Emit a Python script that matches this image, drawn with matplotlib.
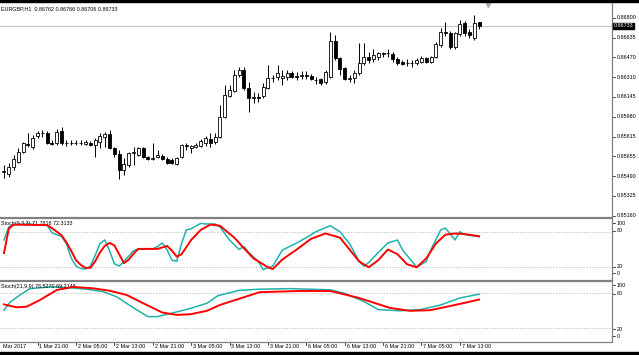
import numpy as np
import matplotlib
matplotlib.use('Agg')
import matplotlib.pyplot as plt
from matplotlib.transforms import blended_transform_factory

plt.rcParams['font.family'] = ['Liberation Sans', 'DejaVu Sans']

## data
# hourly candles EURGBP, open / high / low / close
opens = [0.85523, 0.85506, 0.85564, 0.85605, 0.85688, 0.85754, 0.85729, 0.85820, 0.85845, 0.85845,
         0.85762, 0.85762, 0.85862, 0.85762, 0.85766, 0.85762, 0.85766, 0.85754, 0.85762, 0.85746,
         0.85771, 0.85812, 0.85837, 0.85721, 0.85671, 0.85539, 0.85581, 0.85680, 0.85663, 0.85721,
         0.85647, 0.85630, 0.85647, 0.85655, 0.85630, 0.85622, 0.85589, 0.85647, 0.85742, 0.85721,
         0.85729, 0.85737, 0.85762, 0.85795, 0.85771, 0.85812, 0.85978, 0.86152, 0.86193, 0.86326,
         0.86367, 0.86218, 0.86135, 0.86143, 0.86152, 0.86218, 0.86301, 0.86309, 0.86301, 0.86309,
         0.86342, 0.86317, 0.86317, 0.86326, 0.86317, 0.86288, 0.86292, 0.86268, 0.86309, 0.86607,
         0.86466, 0.86384, 0.86292, 0.86301, 0.86342, 0.86425, 0.86475, 0.86458, 0.86475, 0.86500,
         0.86504, 0.86500, 0.86458, 0.86433, 0.86425, 0.86421, 0.86425, 0.86433, 0.86466, 0.86433,
         0.86475, 0.86574, 0.86682, 0.86673, 0.86557, 0.86665, 0.86756, 0.86682, 0.86632, 0.86762]
highs = [0.85581, 0.85597, 0.85663, 0.85721, 0.85771, 0.85845, 0.85829, 0.85862, 0.85870, 0.85862,
         0.85787, 0.85878, 0.85895, 0.85787, 0.85787, 0.85787, 0.85787, 0.85787, 0.85779, 0.85804,
         0.85845, 0.85853, 0.85870, 0.85729, 0.85704, 0.85638, 0.85688, 0.85729, 0.85729, 0.85729,
         0.85655, 0.85762, 0.85704, 0.85671, 0.85647, 0.85638, 0.85647, 0.85754, 0.85762, 0.85746,
         0.85762, 0.85795, 0.85820, 0.85845, 0.85845, 0.86077, 0.86243, 0.86243, 0.86367, 0.86392,
         0.86392, 0.86268, 0.86185, 0.86176, 0.86259, 0.86408, 0.86326, 0.86408, 0.86367, 0.86367,
         0.86359, 0.86350, 0.86359, 0.86359, 0.86334, 0.86309, 0.86301, 0.86367, 0.86682, 0.86657,
         0.86475, 0.86392, 0.86326, 0.86367, 0.86591, 0.86591, 0.86516, 0.86541, 0.86516, 0.86516,
         0.86541, 0.86516, 0.86475, 0.86450, 0.86458, 0.86450, 0.86466, 0.86483, 0.86475, 0.86483,
         0.86599, 0.86715, 0.86764, 0.86690, 0.86682, 0.86781, 0.86773, 0.86706, 0.86822, 0.86766]
lows = [0.85473, 0.85481, 0.85539, 0.85597, 0.85680, 0.85729, 0.85713, 0.85804, 0.85812, 0.85754,
        0.85746, 0.85746, 0.85746, 0.85737, 0.85746, 0.85746, 0.85746, 0.85746, 0.85737, 0.85647,
        0.85721, 0.85729, 0.85713, 0.85647, 0.85465, 0.85498, 0.85564, 0.85581, 0.85655, 0.85638,
        0.85622, 0.85622, 0.85638, 0.85622, 0.85589, 0.85589, 0.85581, 0.85638, 0.85704, 0.85680,
        0.85721, 0.85729, 0.85737, 0.85729, 0.85754, 0.85804, 0.85970, 0.86143, 0.86185, 0.86309,
        0.86201, 0.86019, 0.86094, 0.86102, 0.86135, 0.86210, 0.86268, 0.86284, 0.86243, 0.86284,
        0.86301, 0.86284, 0.86292, 0.86292, 0.86284, 0.86251, 0.86243, 0.86251, 0.86301, 0.86450,
        0.86326, 0.86284, 0.86268, 0.86259, 0.86326, 0.86408, 0.86425, 0.86433, 0.86450, 0.86475,
        0.86475, 0.86433, 0.86408, 0.86408, 0.86400, 0.86392, 0.86408, 0.86425, 0.86425, 0.86425,
        0.86466, 0.86557, 0.86649, 0.86541, 0.86541, 0.86649, 0.86649, 0.86632, 0.86615, 0.86706]
closes = [0.85531, 0.85564, 0.85630, 0.85688, 0.85762, 0.85746, 0.85804, 0.85845, 0.85849, 0.85762,
          0.85758, 0.85853, 0.85762, 0.85766, 0.85762, 0.85766, 0.85762, 0.85771, 0.85746, 0.85787,
          0.85820, 0.85837, 0.85721, 0.85671, 0.85539, 0.85589, 0.85680, 0.85684, 0.85721, 0.85647,
          0.85630, 0.85638, 0.85663, 0.85630, 0.85597, 0.85597, 0.85638, 0.85746, 0.85737, 0.85737,
          0.85746, 0.85779, 0.85804, 0.85762, 0.85812, 0.85978, 0.86160, 0.86201, 0.86326, 0.86367,
          0.86218, 0.86135, 0.86143, 0.86135, 0.86226, 0.86301, 0.86305, 0.86342, 0.86317, 0.86342,
          0.86309, 0.86313, 0.86326, 0.86321, 0.86292, 0.86284, 0.86259, 0.86350, 0.86607, 0.86466,
          0.86375, 0.86292, 0.86301, 0.86342, 0.86425, 0.86475, 0.86450, 0.86491, 0.86508, 0.86504,
          0.86508, 0.86458, 0.86425, 0.86417, 0.86421, 0.86425, 0.86450, 0.86466, 0.86433, 0.86475,
          0.86582, 0.86682, 0.86677, 0.86557, 0.86673, 0.86748, 0.86673, 0.86657, 0.86756, 0.86733]

# stochastic (9,3,3) main / signal, read at bar positions
st1_main_idx = [0, 1, 2, 5, 9, 10, 12, 13, 14, 15, 16, 17, 18, 19, 20, 21, 22, 23, 24, 25, 27, 28, 31,
                32, 33, 34, 35, 36, 37, 38, 39, 41, 42, 44, 45, 47, 49, 50, 51, 53, 54, 56, 58, 61, 63,
                65, 68, 70, 72, 74, 75, 76, 78, 80, 82, 83, 85, 86, 88, 89, 91, 92, 94, 95, 96, 99]
st1_main = [66, 88, 92, 93, 91, 78, 72, 60, 36, 22, 18, 17, 22, 40, 60, 66, 48, 26, 22, 30, 48, 51, 51,
            55, 61, 49, 32, 30, 60, 83, 85, 94, 93, 93, 88, 66, 50, 55, 45, 30, 16, 22, 49, 61, 70,
            80, 90, 80, 60, 30, 22, 28, 45, 61, 66, 50, 30, 20, 30, 50, 83, 86, 66, 80, 75, 71.78]
st1_sig_idx = [0, 1, 2, 9, 10, 12, 13, 14, 15, 16, 17, 18, 19, 20, 21, 22, 23, 24, 25, 26, 27, 28, 32,
               34, 35, 36, 37, 39, 41, 43, 45, 48, 50, 52, 55, 56, 58, 61, 64, 67, 70, 72, 74, 76, 78,
               80, 82, 84, 86, 88, 90, 92, 94, 96, 99]
st1_sig = [44, 85, 92, 91, 86, 74, 62, 48, 32, 24, 19, 19, 30, 45, 56, 61, 57, 42, 27, 33, 43, 51, 51,
           56, 48, 38, 42, 66, 83, 92, 90, 70, 52, 35, 20, 17, 33, 50, 68, 77, 70, 50, 30, 20, 32,
           50, 42, 25, 20, 35, 60, 75, 77, 76, 72.31]

# stochastic (21,9,9)
st2_main_idx = [0, 1.3, 3.3, 5.4, 9.6, 13, 17.3, 20.6, 23.5, 27, 30, 32, 35, 38.8, 42.3, 44.6, 49, 53,
                59.6, 68, 71, 75, 78, 82.5, 86.7, 91, 95, 99]
st2_main = [51, 65, 77, 88, 91, 90, 87, 83, 74, 55, 40, 40, 46, 54, 63, 76, 85, 87,
            88, 86, 80, 66, 52, 50, 52, 60, 72, 78.53]
st2_sig_idx = [0, 2.6, 4.7, 7.5, 11, 14.4, 18.5, 22, 25.6, 29, 33, 36, 38.8, 42.3, 45, 53.3, 61.7, 68,
               74, 80.4, 84.6, 88.8, 94, 99]
st2_sig = [61, 56, 57, 68.5, 85.7, 91, 88.6, 84.5, 77, 63, 47, 43, 44, 50, 60, 82, 84, 84,
           72, 55, 50, 51, 60, 69.21]

price_labels = ['0.86800', '0.86635', '0.86470', '0.86310', '0.86145', '0.85980',
                '0.85815', '0.85655', '0.85490', '0.85325', '0.85160']
time_idx = [7, 15, 23, 31, 39, 47, 55, 63, 71, 79, 87, 95]
time_labels = ['1 Mar 21:00', '2 Mar 05:00', '2 Mar 13:00', '2 Mar 21:00', '3 Mar 05:00',
               '3 Mar 13:00', '3 Mar 21:00', '6 Mar 05:00', '6 Mar 13:00', '6 Mar 21:00',
               '7 Mar 05:00', '7 Mar 13:00']

## figure
W, H = 639, 355
fig = plt.figure(figsize=(W / 100, H / 100), dpi=100)
fig.patch.set_facecolor('white')

def frac(x0, y0, x1, y1):
    return [x0 / W, 1 - y1 / H, (x1 - x0) / W, (y1 - y0) / H]

ax = fig.add_axes(frac(0, 3, 612, 216))
ax1 = fig.add_axes(frac(0, 219, 612, 279.5), sharex=ax)
ax2 = fig.add_axes(frac(0, 282, 612, 341), sharex=ax)

fs = 3.9
x = np.arange(len(closes))

for a in (ax, ax1, ax2):
    a.set_facecolor('white')
    for s in ('left', 'top', 'bottom'):
        a.spines[s].set_visible(False)
    a.spines['right'].set_color('#808080')
    a.spines['right'].set_linewidth(0.9)
    a.tick_params(axis='y', which='both', left=False, right=False, labelleft=False)
    a.tick_params(axis='x', which='both', bottom=False, labelbottom=False)

ax.set_xlim(-0.83, 126.7)

# candles
o = np.array(opens); c = np.array(closes)
ax.vlines(x, lows, highs, color='black', lw=0.7, zorder=2)
bull = c >= o
ax.bar(x[bull], np.maximum(c[bull] - o[bull], 0.000015), bottom=o[bull], width=0.62,
       facecolor='white', edgecolor='black', linewidth=0.6, zorder=3)
ax.bar(x[~bull], np.maximum(o[~bull] - c[~bull], 0.000015), bottom=c[~bull], width=0.62,
       facecolor='black', edgecolor='black', linewidth=0.6, zorder=3)

ax.set_ylim(0.85158, 0.86922)
# current price line
ax.axhline(closes[-1], color='#c8c8c8', lw=0.9, zorder=1)

tr = blended_transform_factory(ax.transAxes, ax.transData)
step = (0.868 - 0.8516) / 10
for k, lab in enumerate(price_labels):
    yv = 0.868 - k * step
    ax.plot([1.0, 1.005], [yv, yv], color='black', lw=0.5, transform=tr, clip_on=False)
    ax.text(1.008, yv, lab, transform=tr, fontsize=fs, va='center', ha='left')
ax.text(1.003, closes[-1], f'{closes[-1]:.5f}', transform=tr, fontsize=fs, va='center', ha='left',
        color='white', bbox=dict(boxstyle='square,pad=0.15', fc='black', ec='black'))
# chart shift marker
ax.plot([100.9], [0.99], marker='v', color='#b0b0b0', markersize=3,
        transform=blended_transform_factory(ax.transData, ax.transAxes), clip_on=False)
ax.text(0.002, 0.972, 'EURGBP,H1  %.5f %.5f %.5f %.5f' % (opens[-1], highs[-1], lows[-1], closes[-1]),
        transform=ax.transAxes, fontsize=fs, va='center', ha='left')

# stochastics
def stoch_panel(a, main_idx, main, sig_idx, sig, title, ylim, lab_pos):
    a.set_ylim(*ylim)
    a.axhline(80, color='#b0b0b0', lw=0.5, ls=(0, (2, 2)))
    a.axhline(20, color='#b0b0b0', lw=0.5, ls=(0, (2, 2)))
    a.plot(main_idx, main, color='#20b2aa', lw=1.1, zorder=3)
    a.plot(sig_idx, sig, color='red', lw=1.4, zorder=4)
    t = blended_transform_factory(a.transAxes, a.transData)
    for lv, lp in zip([100, 80, 20, 0], lab_pos):
        a.plot([1.0, 1.005], [lp, lp], color='black', lw=0.5, transform=t, clip_on=False)
        a.text(1.008, lp, str(lv), transform=t, fontsize=fs, va='center', ha='left')
    a.text(0.002, 0.92, title, transform=a.transAxes, fontsize=fs, va='center', ha='left')

stoch_panel(ax1, st1_main_idx, st1_main, st1_sig_idx, st1_sig,
            'Stoch(9,3,3) %.4f %.4f' % (71.7818, 72.3133), (-0.6, 101.4), [94.5, 82, 21, 10])
stoch_panel(ax2, st2_main_idx, st2_main, st2_sig_idx, st2_sig,
            'Stoch(21,9,9) %.4f %.4f' % (78.5270, 69.2148), (-1.8, 99.4), [93.5, 79, 18, 6])

# separators between panels
for yy in (217.5, 280.8):
    fig.add_artist(plt.Line2D([0, 612 / W], [1 - yy / H, 1 - yy / H], color='#808080', lw=1.6))
fig.add_artist(plt.Line2D([0, 612 / W], [1 - 341.5 / H, 1 - 341.5 / H], color='#808080', lw=0.9))
# window frame
fig.add_artist(plt.Rectangle((0, 1 - 2 / H), 1, 2 / H, color='black'))
fig.add_artist(plt.Rectangle((0, 0), 1, 3.5 / H, color='black'))

# time axis
xt = blended_transform_factory(ax2.transData, fig.transFigure)
for i, lab in zip(time_idx, time_labels):
    ax2.plot([i, i], [1 - 342 / H, 1 - 345 / H], color='black', lw=0.5, transform=xt, clip_on=False)
    ax2.text(i + 0.4, 1 - 346.5 / H, lab, transform=xt, fontsize=fs, va='center', ha='left')
# first label is cut by the window edge, only the month part shows
ax2.text(3 / W, 1 - 346.5 / H, 'Mar 2017', transform=fig.transFigure, fontsize=fs, va='center', ha='left')

plt.savefig('out.png', dpi=100)
